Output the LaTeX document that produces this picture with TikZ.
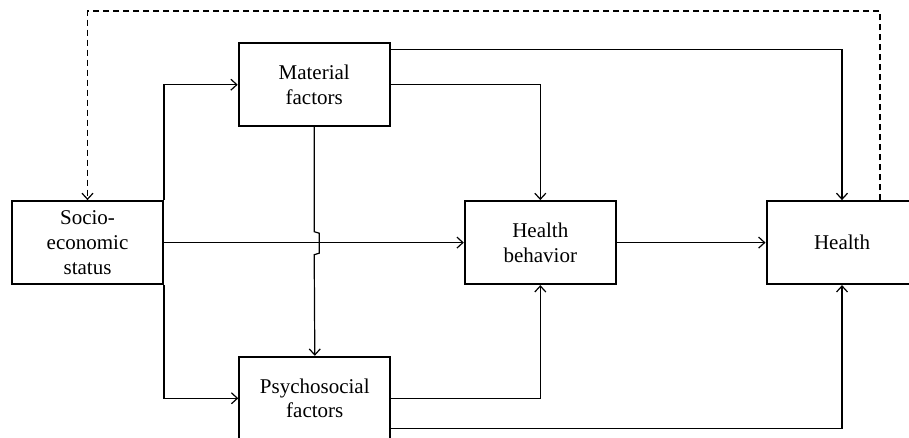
\documentclass[tikz,border=0pt]{standalone}
\usepackage{fontspec}
\setmainfont{Liberation Serif}
\usetikzlibrary{arrows.meta}

\begin{document}
\begin{tikzpicture}[x=0.5pt,y=0.5pt]
\tikzset{
  factor/.style={draw, line width=1pt, minimum width=75.5pt, minimum height=41.5pt,
    inner sep=0pt, align=center, font=\fontsize{10.5}{12.4}\selectfont},
  path/.style={line width=0.6pt, -{Straight Barb[length=3pt,width=5.5pt]}},
  feedback/.style={path, dash pattern=on 3pt off 2pt}
}
\useasboundingbox (0,0) rectangle (909,-438);
% boxes
\node [factor] (ses) at (87.5,-242.6) {Socio-\\economic\\status};
\node [factor] (mat) at (314.2,-84.7) {Material\\factors};
\node [factor] (psy) at (314.8,-398.3) {Psychosocial\\factors};
\node [factor] (hb) at (540.3,-242.6) {Health\\behavior};
\node [factor] (hl) at (842,-242.6) {Health};
% paths from socio-economic status
\draw [path] (ses.north east) |- (mat.west);
\draw [path] (ses.south east) |- (psy.west);
\draw [path] (ses.east) -- (hb.west);
% material to psychosocial, stepping aside at the crossing
\draw [path] (mat.south) -- (mat.south |- 0,-231.7) -- ++(5,-1.5) -- ++(0,-20) -- ++(-5,-1.5) -- (psy.north);
% to health behavior and health
\draw [path] (mat.east) -| (hb.north);
\draw [path] ([yshift=-3.85pt]mat.north east) -| (hl.north);
\draw [path] (psy.east) -| (hb.south);
\draw [path] ([yshift=-15pt]psy.east) -| (hl.south);
\draw [path] (hb.east) -- (hl.west);
% feedback
\draw [feedback] ([xshift=19pt]hl.north) -- ++(0,189) -| (ses.north);
\end{tikzpicture}
\end{document}
